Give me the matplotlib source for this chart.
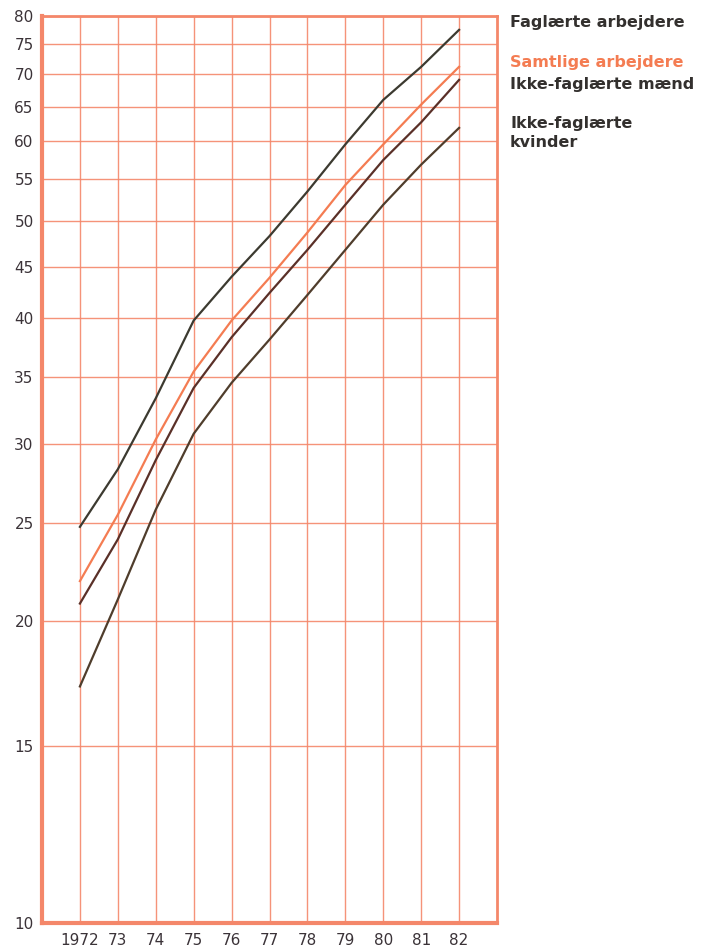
import matplotlib.pyplot as plt
from matplotlib.ticker import FixedLocator, NullLocator

# Data (indeks, log scale)
years = [1972, 1973, 1974, 1975, 1976, 1977, 1978, 1979, 1980, 1981, 1982]
year_labels = ['1972', '73', '74', '75', '76', '77', '78', '79', '80', '81', '82']
faglaerte = [24.8, 28.3, 33.3, 39.8, 44.0, 48.3, 53.5, 59.6, 66.0, 71.2, 77.5]
samtlige = [21.9, 25.5, 30.3, 35.4, 39.8, 43.9, 48.7, 54.3, 59.6, 65.3, 71.2]
ikke_maend = [20.8, 24.1, 28.9, 34.1, 38.3, 42.4, 46.8, 51.9, 57.5, 62.7, 69.1]
ikke_kvinder = [17.2, 21.0, 25.8, 30.7, 34.5, 38.1, 42.2, 46.8, 51.9, 56.9, 61.9]
y_ticks = [10, 15, 20, 25, 30, 35, 40, 45, 50, 55, 60, 65, 70, 75, 80]

grid_col = '#f4876a'
txt_col = '#3b3338'

fig = plt.figure(figsize=(7.05, 9.5), dpi=100)
ax = fig.add_axes([42/705, 27/950, 455/705, 907/950])

ax.set_yscale('log')
ax.set_ylim(10, 80)
ax.set_xlim(1971, 1983)

ax.yaxis.set_major_locator(FixedLocator(y_ticks))
ax.yaxis.set_minor_locator(NullLocator())
ax.set_yticklabels([str(v) for v in y_ticks])
ax.set_xticks(years)
ax.set_xticklabels(year_labels)

ax.grid(True, color=grid_col, lw=1.0, alpha=0.9)
ax.set_axisbelow(True)
ax.tick_params(length=0, labelsize=11, colors=txt_col, pad=6)
ax.tick_params(axis='x', pad=7)

for side, w in [('left', 3), ('bottom', 3), ('right', 2), ('top', 2)]:
    ax.spines[side].set_color(grid_col)
    ax.spines[side].set_linewidth(w)

# lines
ax.plot(years, faglaerte, color='#3c3a30', lw=1.6)
ax.plot(years, samtlige, color='#f47c52', lw=1.6)
ax.plot(years, ikke_maend, color='#5a3028', lw=1.6)
ax.plot(years, ikke_kvinder, color='#4f3d2c', lw=1.6)

# labels to the right
fig.text(510/705, 1 - 22/950, 'Faglærte arbejdere', color='#33302e',
         fontsize=11.5, fontweight='bold', va='center')
fig.text(510/705, 1 - 63/950, 'Samtlige arbejdere', color='#f47c52',
         fontsize=11.5, fontweight='bold', va='center')
fig.text(510/705, 1 - 84/950, 'Ikke-faglærte mænd', color='#33302e',
         fontsize=11.5, fontweight='bold', va='center')
fig.text(510/705, 1 - 133/950, 'Ikke-faglærte\nkvinder', color='#33302e',
         fontsize=11.5, fontweight='bold', va='center', linespacing=1.35)

plt.savefig('out.png', dpi=100)
